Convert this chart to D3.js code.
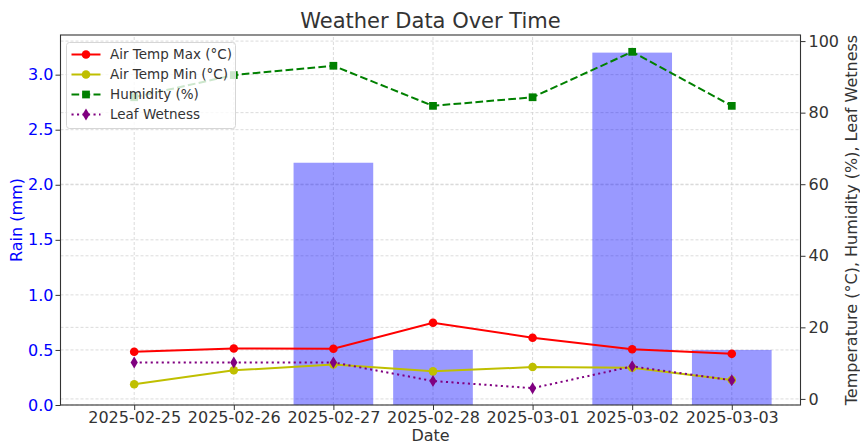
<!DOCTYPE html>
<html>
<head>
<meta charset="utf-8">
<script src="https://cdn.jsdelivr.net/npm/d3@7"></script>
<style>
  body { margin: 0; background: #fff; }
  text { font-family: "DejaVu Sans", sans-serif; }
</style>
</head>
<body>
<div id="chart"></div>
<script>
// Data
var dates = ['2025-02-25', '2025-02-26', '2025-02-27', '2025-02-28', '2025-03-01', '2025-03-02', '2025-03-03'];
var rain = [0, 0, 2.2, 0.5, 0, 3.2, 0.5];
var tempMax = [13.2, 14.1, 14.0, 21.3, 17.1, 13.9, 12.6];
var tempMin = [4.1, 8.0, 9.6, 7.7, 8.9, 8.7, 5.3];
var humidity = [84.3, 90.5, 93.1, 81.9, 84.3, 97.0, 81.9];
var leafWetness = [10.2, 10.2, 10.2, 5.0, 3.0, 9.1, 5.2];
var leftTicks = [0, 0.5, 1.0, 1.5, 2.0, 2.5, 3.0];
var rightTicks = [0, 20, 40, 60, 80, 100];

var width = 860, height = 445;
var margin = { top: 35, right: 59.5, bottom: 40, left: 60.5 };

var svg = d3.select('#chart')
  .append('svg')
  .attr('width', width)
  .attr('height', height);

var x0 = margin.left, x1 = width - margin.right;
var y0 = height - margin.bottom, y1 = margin.top;

// Categorical x positions with room for the bars at both ends
var xScale = d3.scaleLinear()
  .domain([-0.74, dates.length - 1 + 0.69])
  .range([x0, x1]);

var yLeft = d3.scaleLinear()
  .domain([0, d3.max(rain) * 1.05])
  .range([y0, y1]);

var allRight = tempMax.concat(tempMin, humidity, leafWetness);
var rMin = d3.min(allRight), rMax = d3.max(allRight), pad = (rMax - rMin) * 0.05;
var yRight = d3.scaleLinear()
  .domain([rMin - pad, rMax + pad])
  .range([y0, y1]);

var textColor = '#333';
var tickFont = '16px';

// Grid lines
var grid = svg.append('g').attr('class', 'grid')
  .attr('stroke', '#d2d2d2')
  .attr('stroke-width', 0.8)
  .attr('stroke-dasharray', '3,2');

grid.selectAll('.gx')
  .data(dates)
  .enter()
  .append('line')
  .attr('x1', function(d, i) { return xScale(i); })
  .attr('x2', function(d, i) { return xScale(i); })
  .attr('y1', y0)
  .attr('y2', y1);

grid.selectAll('.gyl')
  .data(leftTicks)
  .enter()
  .append('line')
  .attr('x1', x0).attr('x2', x1)
  .attr('y1', function(d) { return yLeft(d); })
  .attr('y2', function(d) { return yLeft(d); });

grid.selectAll('.gyr')
  .data(rightTicks)
  .enter()
  .append('line')
  .attr('x1', x0).attr('x2', x1)
  .attr('y1', function(d) { return yRight(d); })
  .attr('y2', function(d) { return yRight(d); });

// Rain bars
var barW = xScale(0.4) - xScale(0);
svg.selectAll('.bar')
  .data(rain)
  .enter()
  .append('rect')
  .attr('class', 'bar')
  .attr('x', function(d, i) { return xScale(i) - barW; })
  .attr('width', barW * 2)
  .attr('y', function(d) { return yLeft(d); })
  .attr('height', function(d) { return yLeft(0) - yLeft(d); })
  .attr('fill', 'blue')
  .attr('fill-opacity', 0.4);

// Axes
var xAxis = svg.append('g')
  .attr('transform', 'translate(0,' + y0 + ')')
  .call(d3.axisBottom(xScale)
    .tickValues(d3.range(dates.length))
    .tickFormat(function(i) { return dates[i]; })
    .tickSize(5).tickPadding(2));
xAxis.selectAll('text').style('font-size', tickFont).attr('fill', textColor);

var leftAxis = svg.append('g')
  .attr('transform', 'translate(' + x0 + ',0)')
  .call(d3.axisLeft(yLeft).tickValues(leftTicks).tickFormat(d3.format('.1f')).tickSize(5).tickPadding(2));
leftAxis.selectAll('text').style('font-size', tickFont).attr('fill', 'blue');

var rightAxis = svg.append('g')
  .attr('transform', 'translate(' + x1 + ',0)')
  .call(d3.axisRight(yRight).tickValues(rightTicks).tickSize(5).tickPadding(3));
rightAxis.selectAll('text').style('font-size', tickFont).attr('fill', textColor);

[xAxis, leftAxis, rightAxis].forEach(function(a) {
  a.select('.domain').remove();
  a.selectAll('line').attr('stroke', textColor).attr('stroke-width', 1);
});

// Spines
svg.append('rect')
  .attr('x', x0).attr('y', y1)
  .attr('width', x1 - x0).attr('height', y0 - y1)
  .attr('fill', 'none')
  .attr('stroke', textColor)
  .attr('stroke-width', 1.1);

// Series on the right axis
var series = [
  { name: 'Air Temp Max (°C)', values: tempMax, color: 'red', dash: null, marker: 'circle' },
  { name: 'Air Temp Min (°C)', values: tempMin, color: '#bfbf00', dash: null, marker: 'circle' },
  { name: 'Humidity (%)', values: humidity, color: 'green', dash: '7.7,3.3', marker: 'square' },
  { name: 'Leaf Wetness', values: leafWetness, color: 'purple', dash: '2.1,3.4', marker: 'diamond' }
];

var line = d3.line()
  .x(function(d, i) { return xScale(i); })
  .y(function(d) { return yRight(d); });

function markerPath(type) {
  if (type === 'circle') return d3.symbol(d3.symbolCircle, 58)();
  if (type === 'square') return d3.symbol(d3.symbolSquare, 60)();
  return 'M0,-6L3.6,0L0,6L-3.6,0Z';
}

series.forEach(function(s) {
  svg.append('path')
    .datum(s.values)
    .attr('d', line)
    .attr('fill', 'none')
    .attr('stroke', s.color)
    .attr('stroke-width', 2)
    .attr('stroke-dasharray', s.dash);

  svg.selectAll(null)
    .data(s.values)
    .enter()
    .append('path')
    .attr('d', markerPath(s.marker))
    .attr('transform', function(d, i) { return 'translate(' + xScale(i) + ',' + yRight(d) + ')'; })
    .attr('fill', s.color);
});

// Legend
var legend = svg.append('g').attr('transform', 'translate(66.5,42.5)');
legend.append('rect')
  .attr('width', 169).attr('height', 86)
  .attr('rx', 3)
  .attr('fill', 'white').attr('fill-opacity', 0.8)
  .attr('stroke', '#d6d6d6');

series.forEach(function(s, i) {
  var g = legend.append('g').attr('transform', 'translate(0,' + (12 + i * 20) + ')');
  g.append('line')
    .attr('x1', 5).attr('x2', 34)
    .attr('stroke', s.color).attr('stroke-width', 2)
    .attr('stroke-dasharray', s.dash);
  g.append('path')
    .attr('d', markerPath(s.marker))
    .attr('transform', 'translate(19.5,0)')
    .attr('fill', s.color);
  g.append('text')
    .attr('x', 43.5).attr('dy', '0.35em')
    .style('font-size', '13.5px')
    .attr('fill', textColor)
    .text(s.name);
});

// Titles and axis labels
svg.append('text')
  .attr('x', (x0 + x1) / 2).attr('y', 28)
  .attr('text-anchor', 'middle')
  .style('font-size', '21px')
  .attr('fill', textColor)
  .text('Weather Data Over Time');

svg.append('text')
  .attr('x', (x0 + x1) / 2).attr('y', 440.5)
  .attr('text-anchor', 'middle')
  .style('font-size', '16px')
  .attr('fill', textColor)
  .text('Date');

svg.append('text')
  .attr('transform', 'translate(22,' + ((y0 + y1) / 2) + ') rotate(-90)')
  .attr('text-anchor', 'middle')
  .style('font-size', '16px')
  .attr('fill', 'blue')
  .text('Rain (mm)');

svg.append('text')
  .attr('transform', 'translate(857,' + ((y0 + y1) / 2) + ') rotate(-90)')
  .attr('text-anchor', 'middle')
  .style('font-size', '16px')
  .attr('fill', textColor)
  .text('Temperature (°C), Humidity (%), Leaf Wetness');
</script>
</body>
</html>
